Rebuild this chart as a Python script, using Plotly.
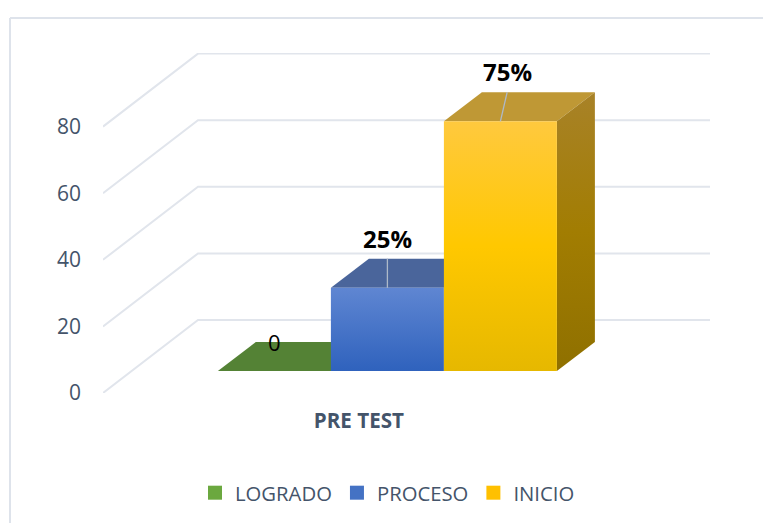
import plotly.graph_objects as go

# --- data ---
categories = ["LOGRADO", "PROCESO", "INICIO"]
values = [0, 25, 75]
value_labels = ["0", "25%", "75%"]
group_labels = ["PRE TEST"]
y_ticks = [0, 20, 40, 60, 80]

# --- styles ---
TEXT = "#44546A"
GRID = "#E1E5EC"
FONT = "Open Sans"
# colorscales run bottom -> top of the face
front_cols = [
    [[0, "#548235"], [1, "#6FAD47"]],
    [[0, "#2F62BD"], [1, "#5F86D2"]],
    [[0, "#E6B800"], [0.5, "#FFC800"], [1, "#FFC93E"]],
]
side_cols = [
    [[0, "#54792F"], [1, "#54792F"]],
    [[0, "#2A4F90"], [1, "#3F5F9F"]],
    [[0, "#8F7000"], [0.5, "#A27D02"], [1, "#A88228"]],
]
top_cols = ["#548235", "#4A659B", "#BF9835"]
legend_cols = ["#6BA83F", "#4472C4", "#FFC000"]

# --- oblique projection set-up (page px geometry of the reference) ---
W, H = 763, 523
L, R, T, B = 103, 710, 53, 393
PX_PER_UNIT = 66.6 / 20
BAR_PX = 113
Y_TOP = (B - T) / PX_PER_UNIT
DEPTH_Y = 73 / PX_PER_UNIT     # depth of the wall in value units
DEPTH_X = 95 / BAR_PX          # depth of the wall in bar widths
X0_PX = 189.4                  # left edge of first bar at depth 0
X_RANGE = [(L - X0_PX) / BAR_PX, (R - X0_PX) / BAR_PX]
D_FRONT, D_BACK = 0.30, 0.70


def proj(x, v, d):
    return x + d * DEPTH_X, v + d * DEPTH_Y


def poly(points):
    pts = [proj(*p) for p in points]
    pts.append(pts[0])
    return [p[0] for p in pts], [p[1] for p in pts]


fig = go.Figure()

# walls / grid
for t in y_ticks:
    xs, ys = zip(*[proj(X_RANGE[0], t, 0), proj(X_RANGE[0], t, 1)])
    xs = list(xs) + [X_RANGE[1]]
    ys = list(ys) + [ys[-1]]
    fig.add_trace(go.Scatter(x=xs, y=ys, mode="lines", line=dict(color=GRID, width=2),
                             showlegend=False, hoverinfo="skip", cliponaxis=False))

# bars
for i, v in enumerate(values):
    # top
    xs, ys = poly([(i, v, D_FRONT), (i + 1, v, D_FRONT), (i + 1, v, D_BACK), (i, v, D_BACK)])
    fig.add_trace(go.Scatter(x=xs, y=ys, mode="lines", fill="toself", fillcolor=top_cols[i],
                             line=dict(width=0), showlegend=False, hoverinfo="skip"))
    if v > 0:
        # side
        xs, ys = poly([(i + 1, 0, D_FRONT), (i + 1, 0, D_BACK), (i + 1, v, D_BACK), (i + 1, v, D_FRONT)])
        fig.add_trace(go.Scatter(x=xs, y=ys, mode="lines", fill="toself",
                                 fillgradient=dict(type="vertical", colorscale=side_cols[i]),
                                 line=dict(width=0), showlegend=False, hoverinfo="skip"))
        # front
        xs, ys = poly([(i, 0, D_FRONT), (i + 1, 0, D_FRONT), (i + 1, v, D_FRONT), (i, v, D_FRONT)])
        fig.add_trace(go.Scatter(x=xs, y=ys, mode="lines", fill="toself",
                                 fillgradient=dict(type="vertical", colorscale=front_cols[i]),
                                 line=dict(width=0), showlegend=False, hoverinfo="skip"))
        # leader line across the top face
        lean = 0.06 if v > 50 else 0
        x1, y1 = proj(i + 0.5, v, D_FRONT)
        y2 = proj(i + 0.5, v, D_BACK)[1]
        fig.add_trace(go.Scatter(x=[x1, x1 + lean], y=[y1, y2], mode="lines",
                                 line=dict(color="#AEB9C9", width=1.3),
                                 showlegend=False, hoverinfo="skip"))

# legend entries
for name, c in zip(categories, legend_cols):
    fig.add_trace(go.Scatter(x=[None], y=[None], mode="markers", name=name,
                             marker=dict(symbol="square", size=14, color=c, line=dict(width=0))))

# data labels
label_shift = [(0, 0), (0, 20), (7, 21)]
for i, (v, lab) in enumerate(zip(values, value_labels)):
    ax, _ = proj(i + 0.5, v, D_FRONT)
    _, ay = proj(i + 0.5, v, D_BACK)
    fig.add_annotation(x=ax, y=ay, text=f"<b>{lab}</b>" if v > 0 else lab, showarrow=False,
                       xshift=label_shift[i][0], yshift=label_shift[i][1],
                       font=dict(family=FONT, size=22 if v == 0 else 24, color="#000000"),
                       xanchor="center", yanchor="middle")

PW, PH = R - L, B - T


def px(x):
    return (x - L) / PW


def py(y):
    return (B - y) / PH


frame = dict(type="line", xref="paper", yref="paper", line=dict(color="#DEE3EB", width=2), layer="below")

fig.update_layout(
    width=W, height=H, autosize=False,
    margin=dict(l=L, r=W - R, t=T, b=H - B, autoexpand=False),
    paper_bgcolor="white", plot_bgcolor="rgba(0,0,0,0)",
    showlegend=True,
    legend=dict(orientation="h", x=px(195), y=py(493), xanchor="left", yanchor="middle",
                font=dict(family=FONT, size=20.3, color=TEXT), bgcolor="rgba(0,0,0,0)",
                traceorder="normal", itemclick=False, itemdoubleclick=False),
    xaxis=dict(range=X_RANGE, showgrid=False, zeroline=False, showline=False, ticks="",
               tickmode="array", tickvals=[1.5], ticktext=[f"<b>{s}</b>" for s in group_labels],
               tickfont=dict(family=FONT, size=20.6, color=TEXT), ticklabelstandoff=13, automargin=False),
    yaxis=dict(range=[0, Y_TOP], showgrid=False, zeroline=False, showline=False, ticks="",
               tickmode="array", tickvals=y_ticks, ticktext=[str(t) for t in y_ticks],
               tickfont=dict(family=FONT, size=21, color=TEXT), ticklabelstandoff=21, automargin=False),
    shapes=[
        dict(frame, x0=px(10), x1=px(10), y0=py(18), y1=py(H)),
        dict(frame, x0=px(10), x1=px(W), y0=py(18), y1=py(18)),
    ],
)

fig.write_html("out.html", config=dict(displayModeBar=False),
               post_script="document.body.style.margin='0';")
